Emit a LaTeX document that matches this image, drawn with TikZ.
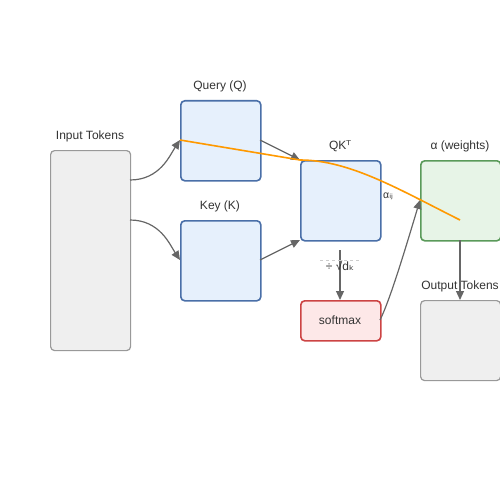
\documentclass[tikz,border=0pt]{standalone}
\usepackage{fontspec}
\setmainfont{Liberation Sans}
\newfontfamily\dv{DejaVu Sans}
\usetikzlibrary{arrows.meta}
\definecolor{txt}{HTML}{333333}
\definecolor{conn}{HTML}{666666}
\definecolor{bluef}{HTML}{E6F0FC}
\definecolor{blued}{HTML}{4A6FA8}
\definecolor{greenf}{HTML}{E7F4E7}
\definecolor{greend}{HTML}{5A9A5A}
\definecolor{redf}{HTML}{FDE8E8}
\definecolor{redd}{HTML}{CC4444}
\definecolor{greyf}{HTML}{EFEFEF}
\definecolor{greyd}{HTML}{999999}
\definecolor{orng}{HTML}{FF9900}
\tikzset{
  box/.style={draw, rounded corners=4pt, line width=1.6pt, inner sep=0pt, anchor=north west},
  bluebox/.style={box, draw=blued, fill=bluef, minimum width=80pt, minimum height=80pt},
  greenbox/.style={box, draw=greend, fill=greenf, minimum width=80pt, minimum height=80pt},
  greybox/.style={box, draw=greyd, fill=greyf, line width=1.2pt, minimum width=80pt},
  redbox/.style={box, draw=redd, fill=redf, minimum width=80pt, minimum height=40pt},
  lbl/.style={text=txt, font=\fontsize{12}{14}\selectfont, inner sep=0pt},
  conn/.style={draw=conn, line width=1.2pt, -{Triangle[length=9pt,width=8pt]}},
}
\begin{document}
\begin{tikzpicture}[x=1pt,y=-1pt]
\useasboundingbox (0,0) rectangle (500,500);
% boxes
\node[greybox, minimum height=200pt] (in) at (50,150) {};
\node[bluebox] (q) at (180,100) {};
\node[bluebox] (k) at (180,220) {};
\node[bluebox] (qk) at (300,160) {};
\node[greenbox] (al) at (420,160) {};
\node[redbox] (sm) at (300,300) {};
\node[greybox, minimum height=80pt] (out) at (420,300) {};
% labels
\node[lbl] (lin) at (90,136) {Input Tokens};
\node[lbl] (lq) at (220,86) {Query (Q)};
\node[lbl] (lk) at (220,206) {Key (K)};
\node[lbl] (lqk) at (340,146) {QK{\dv ᵀ}};
\node[lbl] (lal) at (460,146) {α (weights)};
\node[lbl] (lout) at (460,286) {Output Tokens};
\node[lbl] (lsm) at (340,320) {softmax};
\node[lbl, font=\fontsize{10.5}{12}\selectfont, anchor=west] (laij) at (383,196) {α{\dv ᵢⱼ}};
% coordinates
\coordinate (inA) at (130,180);
\coordinate (inB) at (130,220);
\coordinate (qin) at (180,140);
\coordinate (kin) at (180,260);
\coordinate (qout) at (260,140);
\coordinate (kout) at (260,260);
\coordinate (qkA) at (300,160);
\coordinate (qkB) at (300,240);
\coordinate (qkbot) at (340,250);
\coordinate (smtop) at (340,300);
\coordinate (smr) at (380,320);
\coordinate (alin) at (420,200);
\coordinate (albot) at (460,240);
\coordinate (outtop) at (460,300);
\coordinate (oend) at (460,220);
% connectors
\draw[conn] (inA) .. controls (160,180) and (170,155) .. (qin);
\draw[conn] (inB) .. controls (160,220) and (170,245) .. (kin);
\draw[conn] (qout) -- (qkA);
\draw[conn] (kout) -- (qkB);
\draw[conn] (qkbot) -- (smtop);
\draw[conn] (smr) .. controls (390,300) and (405,250) .. (alin);
\draw[conn] (albot) -- (outtop);
% scale label
\draw[draw=black!20, dashed, line width=0.8pt] (320,260) -- (360,260);
\node[lbl, fill=none] (lsc) at (340,266) {÷ √d{\dv ₖ}};
% attention path
\draw[orng, line width=1.6pt] (qin) -- (qkA) .. controls (350,160) and (400,190) .. (oend);
\end{tikzpicture}
\end{document}
